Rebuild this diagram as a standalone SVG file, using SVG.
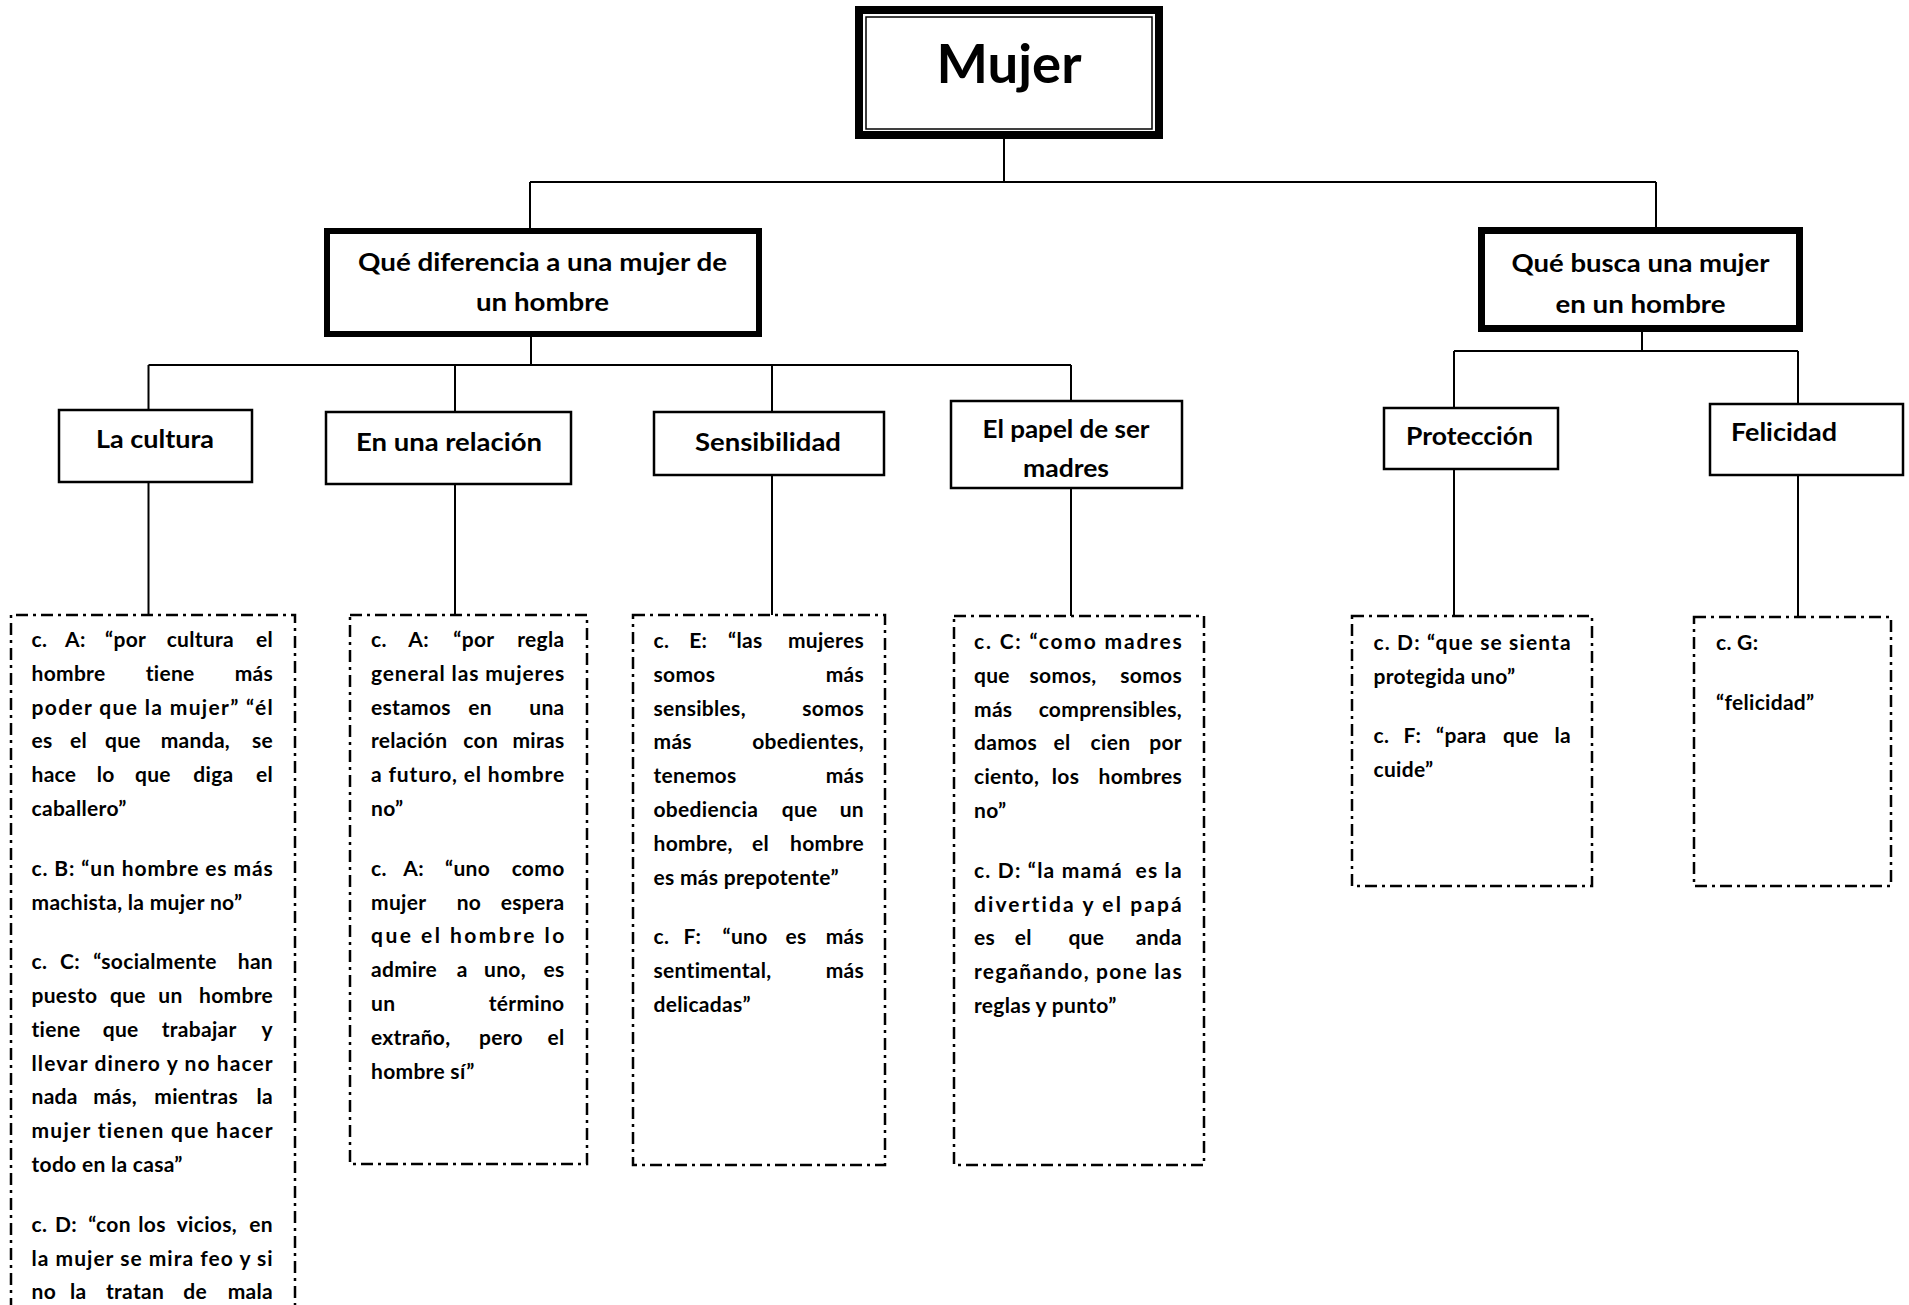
<svg xmlns="http://www.w3.org/2000/svg" width="1909" height="1305" viewBox="0 0 1909 1305">
<style>
.bg{fill:#fff}
.n{fill:#fff;stroke:#000;stroke-width:2.5}
.c{fill:none;stroke:#000;stroke-width:2}
.d{fill:none;stroke:#000;stroke-width:2.5;stroke-dasharray:12 5 3 5}
.t{font-family:Lato,"Liberation Sans",sans-serif;font-weight:700;fill:#000}
.h{font-size:25px;text-anchor:middle}
.b{font-size:21px;letter-spacing:0.3px}
.e{text-anchor:end}
</style>
<rect class="bg" x="0" y="0" width="1909" height="1305"/>
<g id="connectors">
<path class="c" d="M1004,139V182M530,182H1656M530,182V228M1656,182V227"/>
<path class="c" d="M531,337V365M148.5,365H1071M148.5,365V410M455,365V412M772,365V412M1071,365V401"/>
<path class="c" d="M1642,332V351M1454,351H1798M1454,351V408M1798,351V404"/>
<path class="c" d="M148.5,483V615M455,485V615M772,476V615M1071,489V616M1454,470V617M1798,476V617"/>
</g>
<g id="mujer">
<rect x="859" y="10" width="300" height="125" fill="#fff" stroke="#000" stroke-width="8"/>
<rect x="866" y="17" width="286" height="112" fill="none" stroke="#000" stroke-width="1.5"/>
<text class="t" x="1009" y="83" font-size="53" text-anchor="middle" textLength="145" lengthAdjust="spacingAndGlyphs">Mujer</text>
</g>
<g id="diferencia">
<rect x="327" y="231" width="432" height="103" fill="#fff" stroke="#000" stroke-width="6"/>
<text class="t h" x="542.5" y="271" textLength="369" lengthAdjust="spacingAndGlyphs">Qué diferencia a una mujer de</text>
<text class="t h" x="542.5" y="311" textLength="133" lengthAdjust="spacingAndGlyphs">un hombre</text>
</g>
<g id="busca">
<rect x="1481.5" y="230.5" width="318" height="98" fill="#fff" stroke="#000" stroke-width="7"/>
<text class="t h" x="1640.5" y="272" textLength="258" lengthAdjust="spacingAndGlyphs">Qué busca una mujer</text>
<text class="t h" x="1640.5" y="313" textLength="170" lengthAdjust="spacingAndGlyphs">en un hombre</text>
</g>
<g id="cultura">
<rect class="n" x="59" y="410" width="193" height="72"/>
<text class="t h" x="155" y="448" textLength="118" lengthAdjust="spacingAndGlyphs">La cultura</text>
</g>
<g id="relacion">
<rect class="n" x="326" y="412" width="245" height="72"/>
<text class="t h" x="449" y="451" textLength="186" lengthAdjust="spacingAndGlyphs">En una relación</text>
</g>
<g id="sensibilidad">
<rect class="n" x="654" y="412" width="230" height="63"/>
<text class="t h" x="768" y="451" textLength="146" lengthAdjust="spacingAndGlyphs">Sensibilidad</text>
</g>
<g id="papel">
<rect class="n" x="951" y="401" width="231" height="87"/>
<text class="t h" x="1066" y="438" textLength="167" lengthAdjust="spacingAndGlyphs">El papel de ser</text>
<text class="t h" x="1066" y="477" textLength="86" lengthAdjust="spacingAndGlyphs">madres</text>
</g>
<g id="proteccion">
<rect class="n" x="1384" y="408" width="174" height="61"/>
<text class="t h" x="1469.5" y="445" textLength="127" lengthAdjust="spacingAndGlyphs">Protección</text>
</g>
<g id="felicidad">
<rect class="n" x="1710" y="404" width="193" height="71"/>
<text class="t h" x="1784" y="441" textLength="106" lengthAdjust="spacingAndGlyphs">Felicidad</text>
</g>
<g id="citas-cultura">
<path class="d" d="M11,1310V615H295V1310"/>
<g class="t b">
<text y="647"><tspan x="31.5">c.</tspan><tspan x="65">A:</tspan><tspan x="105">“por</tspan><tspan x="166.7">cultura</tspan></text><text class="e" x="273" y="647">el</text>
<text y="681"><tspan x="31.5">hombre</tspan><tspan x="145.7">tiene</tspan></text><text class="e" x="273" y="681">más</text>
<text x="31.5" y="715" textLength="241.5" lengthAdjust="spacing">poder que la mujer” “él</text>
<text y="748"><tspan x="31.5">es</tspan><tspan x="70">el</tspan><tspan x="105">que</tspan><tspan x="160.7">manda,</tspan></text><text class="e" x="273" y="748">se</text>
<text y="782"><tspan x="31.5">hace</tspan><tspan x="96.7">lo</tspan><tspan x="135">que</tspan><tspan x="193.3">diga</tspan></text><text class="e" x="273" y="782">el</text>
<text x="31.5" y="816">caballero”</text>
<text x="31.5" y="876" textLength="241.5" lengthAdjust="spacing">c. B: “un hombre es más</text>
<text x="31.5" y="910">machista, la mujer no”</text>
<text y="969"><tspan x="31.5">c.</tspan><tspan x="60">C:</tspan><tspan x="93.3">“socialmente</tspan></text><text class="e" x="273" y="969">han</text>
<text y="1003"><tspan x="31.5">puesto</tspan><tspan x="110">que</tspan><tspan x="158.3">un</tspan></text><text class="e" x="273" y="1003">hombre</text>
<text y="1037"><tspan x="31.5">tiene</tspan><tspan x="102.7">que</tspan><tspan x="161.7">trabajar</tspan></text><text class="e" x="273" y="1037">y</text>
<text x="31.5" y="1071" textLength="241.5" lengthAdjust="spacing">llevar dinero y no hacer</text>
<text y="1104"><tspan x="31.5">nada</tspan><tspan x="93.3">más,</tspan><tspan x="154.3">mientras</tspan></text><text class="e" x="273" y="1104">la</text>
<text x="31.5" y="1138" textLength="241.5" lengthAdjust="spacing">mujer tienen que hacer</text>
<text x="31.5" y="1172">todo en la casa”</text>
<text y="1232"><tspan x="31.5">c.</tspan><tspan x="55">D:</tspan><tspan x="88.3">“con</tspan><tspan x="138.3">los</tspan><tspan x="176.7">vicios,</tspan></text><text class="e" x="273" y="1232">en</text>
<text x="31.5" y="1266" textLength="241.5" lengthAdjust="spacing">la mujer se mira feo y si</text>
<text y="1299"><tspan x="31.5">no</tspan><tspan x="70">la</tspan><tspan x="106">tratan</tspan><tspan x="183.3">de</tspan></text><text class="e" x="273" y="1299">mala</text>
</g>
</g>
<g id="citas-relacion">
<rect class="d" x="350" y="615" width="237" height="549"/>
<g class="t b">
<text y="647"><tspan x="371">c.</tspan><tspan x="408.3">A:</tspan><tspan x="453.3">“por</tspan></text><text class="e" x="564.5" y="647">regla</text>
<text x="371" y="681" textLength="193.5" lengthAdjust="spacing">general las mujeres</text>
<text y="715"><tspan x="371">estamos</tspan><tspan x="468.3">en</tspan></text><text class="e" x="564.5" y="715">una</text>
<text y="748"><tspan x="371">relación</tspan><tspan x="463.3">con</tspan></text><text class="e" x="564.5" y="748">miras</text>
<text x="371" y="782" textLength="193.5" lengthAdjust="spacing">a futuro, el hombre</text>
<text x="371" y="816">no”</text>
<text y="876"><tspan x="371">c.</tspan><tspan x="403.3">A:</tspan><tspan x="445">“uno</tspan></text><text class="e" x="564.5" y="876">como</text>
<text y="910"><tspan x="371">mujer</tspan><tspan x="456.7">no</tspan></text><text class="e" x="564.5" y="910">espera</text>
<text x="371" y="943" textLength="193.5" lengthAdjust="spacing">que el hombre lo</text>
<text y="977"><tspan x="371">admire</tspan><tspan x="456.7">a</tspan><tspan x="484">uno,</tspan></text><text class="e" x="564.5" y="977">es</text>
<text x="371" y="1011">un</text><text class="e" x="564.5" y="1011">término</text>
<text y="1045"><tspan x="371">extraño,</tspan><tspan x="479">pero</tspan></text><text class="e" x="564.5" y="1045">el</text>
<text x="371" y="1079">hombre sí”</text>
</g>
</g>
<g id="citas-sensibilidad">
<rect class="d" x="633" y="615" width="252" height="550"/>
<g class="t b">
<text y="648"><tspan x="653.5">c.</tspan><tspan x="689.2">E:</tspan><tspan x="728">“las</tspan></text><text class="e" x="864" y="648">mujeres</text>
<text x="653.5" y="682">somos</text><text class="e" x="864" y="682">más</text>
<text x="653.5" y="716">sensibles,</text><text class="e" x="864" y="716">somos</text>
<text x="653.5" y="749">más</text><text class="e" x="864" y="749">obedientes,</text>
<text x="653.5" y="783">tenemos</text><text class="e" x="864" y="783">más</text>
<text y="817"><tspan x="653.5">obediencia</tspan><tspan x="781.7">que</tspan></text><text class="e" x="864" y="817">un</text>
<text y="851"><tspan x="653.5">hombre,</tspan><tspan x="752">el</tspan></text><text class="e" x="864" y="851">hombre</text>
<text x="653.5" y="885">es más prepotente”</text>
<text y="944"><tspan x="653.5">c.</tspan><tspan x="683.6">F:</tspan><tspan x="722.5">“uno</tspan><tspan x="785.4">es</tspan></text><text class="e" x="864" y="944">más</text>
<text x="653.5" y="978">sentimental,</text><text class="e" x="864" y="978">más</text>
<text x="653.5" y="1012">delicadas”</text>
</g>
</g>
<g id="citas-papel">
<rect class="d" x="954" y="616" width="250" height="549"/>
<g class="t b">
<text x="974" y="649" textLength="208" lengthAdjust="spacing">c. C: “como madres</text>
<text y="683"><tspan x="974">que</tspan><tspan x="1029.6">somos,</tspan></text><text class="e" x="1182" y="683">somos</text>
<text x="974" y="717">más</text><text class="e" x="1182" y="717">comprensibles,</text>
<text y="750"><tspan x="974">damos</tspan><tspan x="1053.6">el</tspan><tspan x="1090.6">cien</tspan></text><text class="e" x="1182" y="750">por</text>
<text y="784"><tspan x="974">ciento,</tspan><tspan x="1051.8">los</tspan></text><text class="e" x="1182" y="784">hombres</text>
<text x="974" y="818">no”</text>
<text x="974" y="878" textLength="208" lengthAdjust="spacing" xml:space="preserve">c. D: “la mamá  es la</text>
<text x="974" y="912" textLength="208" lengthAdjust="spacing">divertida y el papá</text>
<text y="945"><tspan x="974">es</tspan><tspan x="1014.8">el</tspan><tspan x="1068.4">que</tspan></text><text class="e" x="1182" y="945">anda</text>
<text x="974" y="979" textLength="208" lengthAdjust="spacing">regañando, pone las</text>
<text x="974" y="1013">reglas y punto”</text>
</g>
</g>
<g id="citas-proteccion">
<rect class="d" x="1352" y="616" width="240" height="270"/>
<g class="t b">
<text x="1373.5" y="650" textLength="197.5" lengthAdjust="spacing">c. D: “que se sienta</text>
<text x="1373.5" y="684">protegida uno”</text>
<text y="743"><tspan x="1373.5">c.</tspan><tspan x="1403.5">F:</tspan><tspan x="1436">“para</tspan><tspan x="1503">que</tspan></text><text class="e" x="1571" y="743">la</text>
<text x="1373.5" y="777">cuide”</text>
</g>
</g>
<g id="citas-felicidad">
<rect class="d" x="1694" y="617" width="197" height="269"/>
<g class="t b">
<text x="1716" y="650">c. G:</text>
<text x="1716" y="710">“felicidad”</text>
</g>
</g>
</svg>
